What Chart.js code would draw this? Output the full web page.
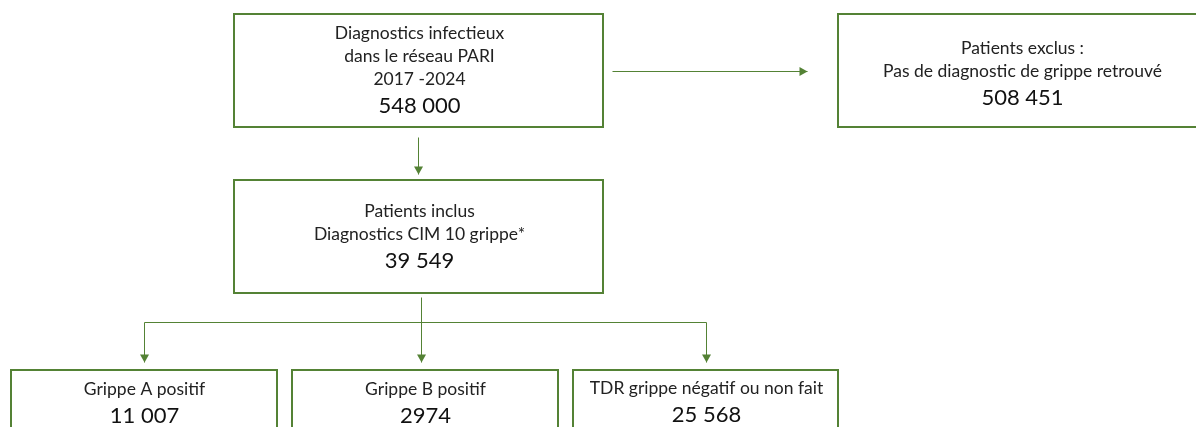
<!DOCTYPE html>
<html>
<head>
<meta charset="utf-8">
<script src="https://cdn.jsdelivr.net/npm/chart.js@4.4.1/dist/chart.umd.min.js"></script>
<style>
  html, body { margin: 0; padding: 0; background: #fff; }
  #wrap { width: 1196px; height: 427px; }
</style>
</head>
<body>
<div id="wrap"><canvas id="flow"></canvas></div>
<script>
// texte des cases du diagramme
const boxTitles = [
    ['Diagnostics infectieux', 'dans le réseau PARI', '2017 -2024'],
    ['Patients exclus :', 'Pas de diagnostic de grippe retrouvé'],
    ['Patients inclus', 'Diagnostics CIM 10 grippe*'],
    ['Grippe A positif'],
    ['Grippe B positif'],
    ['TDR grippe négatif ou non fait']
];
const boxCounts = [548000, 508451, 39549, 11007, 2974, 25568];

// liens : [case de départ, case d'arrivée]
const links = [[0, 1], [0, 2], [2, 3], [2, 4], [2, 5]];

// mise en page (coordonnées de l'axe, pas des données)
const layout = [
    { x0: 234, x1: 603, y0: 14, y1: 127, textTop: 19 },
    { x0: 838, x1: 1206, y0: 14, y1: 127, textTop: 34 },
    { x0: 234, x1: 603, y0: 180, y1: 293, textTop: 31 },
    { x0: 11, x1: 277, y0: 370, y1: 483, textTop: 19 },
    { x0: 292, x1: 558, y0: 370, y1: 483, textTop: 19 },
    { x0: 573, x1: 838, y0: 370, y1: 483, textTop: 18 }
];

const green = '#548235';
const textColor = '#222';
const fontFamily = 'Lato, "Open Sans", sans-serif';

function formatCount(n) {
    // format français : espace pour les milliers à partir de 10 000
    if (n < 10000) return String(n);
    return String(n).replace(/\B(?=(\d{3})+(?!\d))/g, ' ');
}

function arrowHead(ctx, x, y, dir) {
    ctx.beginPath();
    if (dir === 'down') {
        ctx.moveTo(x, y);
        ctx.lineTo(x - 4.5, y - 8);
        ctx.lineTo(x + 4.5, y - 8);
    } else {
        ctx.moveTo(x, y);
        ctx.lineTo(x - 8, y - 4.5);
        ctx.lineTo(x - 8, y + 4.5);
    }
    ctx.closePath();
    ctx.fill();
}

const flowPlugin = {
    id: 'flow',
    afterDatasetsDraw(chart) {
        const ctx = chart.ctx;
        const sx = chart.scales.x;
        const sy = chart.scales.y;
        // demi-pixel pour des traits nets
        const px = v => Math.round(sx.getPixelForValue(v)) + 0.5;
        const py = v => Math.round(sy.getPixelForValue(v)) + 0.5;

        ctx.save();

        // cases
        layout.forEach((b, i) => {
            ctx.strokeStyle = green;
            ctx.lineWidth = 2;
            ctx.strokeRect(px(b.x0) - 0.5, py(b.y0) - 0.5, px(b.x1) - px(b.x0), py(b.y1) - py(b.y0));

            const cx = px((b.x0 + b.x1) / 2);
            let y = b.y0 + b.textTop;
            ctx.fillStyle = textColor;
            ctx.textAlign = 'center';
            ctx.textBaseline = 'middle';
            ctx.font = '17.5px ' + fontFamily;
            boxTitles[i].forEach(line => {
                ctx.fillText(line, cx, py(y));
                y += 23;
            });
            ctx.fillStyle = '#111';
            ctx.font = '22px ' + fontFamily;
            ctx.fillText(formatCount(boxCounts[i]), cx, py(y + 3));
        });

        // flèches
        ctx.strokeStyle = green;
        ctx.fillStyle = green;
        ctx.lineWidth = 1;
        const branchY = 322;
        links.forEach(([from, to]) => {
            const a = layout[from];
            const b = layout[to];
            ctx.beginPath();
            if (to === 1) {
                const y = py(71);
                ctx.moveTo(px(a.x1 + 9), y);
                ctx.lineTo(px(b.x0 - 31), y);
                ctx.stroke();
                arrowHead(ctx, px(b.x0 - 31), y, 'right');
            } else if (to === 2) {
                const x = px(418);
                ctx.moveTo(x, py(a.y1 + 10));
                ctx.lineTo(x, py(b.y0 - 6));
                ctx.stroke();
                arrowHead(ctx, x, py(b.y0 - 6), 'down');
            } else {
                const x = px(to === 4 ? 421 : (b.x0 + b.x1) / 2);
                if (to === 4) {
                    ctx.moveTo(x, py(a.y1 + 4));
                } else {
                    ctx.moveTo(px(421), py(branchY));
                    ctx.lineTo(x, py(branchY));
                }
                ctx.lineTo(x, py(b.y0 - 8));
                ctx.stroke();
                arrowHead(ctx, x, py(b.y0 - 8), 'down');
            }
        });

        ctx.restore();
    }
};

new Chart(document.getElementById('flow'), {
    type: 'scatter',
    data: {
        datasets: [{
            label: 'cases',
            data: layout.map(b => ({ x: (b.x0 + b.x1) / 2, y: (b.y0 + b.y1) / 2 })),
            pointRadius: 0
        }]
    },
    options: {
        responsive: true,
        maintainAspectRatio: false,
        animation: false,
        layout: { padding: 0 },
        scales: {
            x: { type: 'linear', min: 0, max: 1196, display: false },
            y: { type: 'linear', min: 0, max: 427, reverse: true, display: false }
        },
        plugins: {
            legend: { display: false },
            tooltip: { enabled: false }
        }
    },
    plugins: [flowPlugin]
});
</script>
</body>
</html>
